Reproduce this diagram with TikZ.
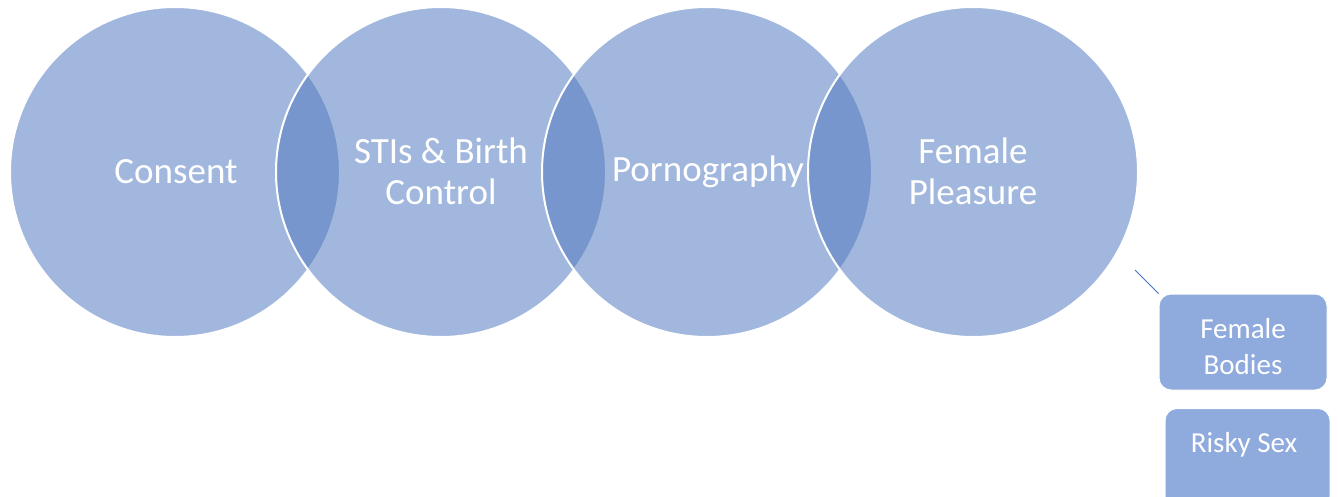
\documentclass[tikz,border=0pt]{standalone}
\usepackage{fontspec}
\setmainfont{Carlito}
\definecolor{acc}{RGB}{82,122,192}
\definecolor{boxc}{RGB}{143,170,220}
\definecolor{linec}{RGB}{68,114,196}
\tikzset{
  bigc/.style={circle, fill=acc, fill opacity=0.54, draw=white, draw opacity=1, line width=2pt, minimum size=330pt, inner sep=0pt},
  ctext/.style={text=white, font=\fontsize{37}{41}\selectfont, align=center},
  sbox/.style={rectangle, rounded corners=12pt, fill=boxc, draw=white, line width=1pt},
  btext/.style={text=white, font=\fontsize{29}{36}\selectfont, align=center},
}
\begin{document}
\begin{tikzpicture}[x=1pt,y=-1pt]
\useasboundingbox (0,0) rectangle (1338,496);
\node[bigc] (c1) at (175,172) {};
\node[bigc] (c2) at (441,172) {};
\node[bigc] (c3) at (707,172) {};
\node[bigc] (c4) at (973,172) {};
\node[ctext] (t1) at (176,172) {Consent};
\node[ctext] (t2) at (441,171) {STIs \& Birth\\Control};
\node[ctext] (t3) at (708,172) {Pornography};
\node[ctext] (t4) at (973,171) {Female\\Pleasure};
\node[sbox, minimum width=168pt, minimum height=96pt] (fb) at (1243,342) {};
\node[btext] (fbt) at (1243,347) {Female\\Bodies};
\node[sbox, minimum width=165pt, minimum height=100pt, anchor=north] (rs) at (1247.5,408) {};
\node[btext] (rst) at (1244,445) {Risky Sex};
\coordinate (ls) at (1135,270);
\draw[linec, line width=0.8pt] (ls) -- (fb.north west);
\end{tikzpicture}
\end{document}
